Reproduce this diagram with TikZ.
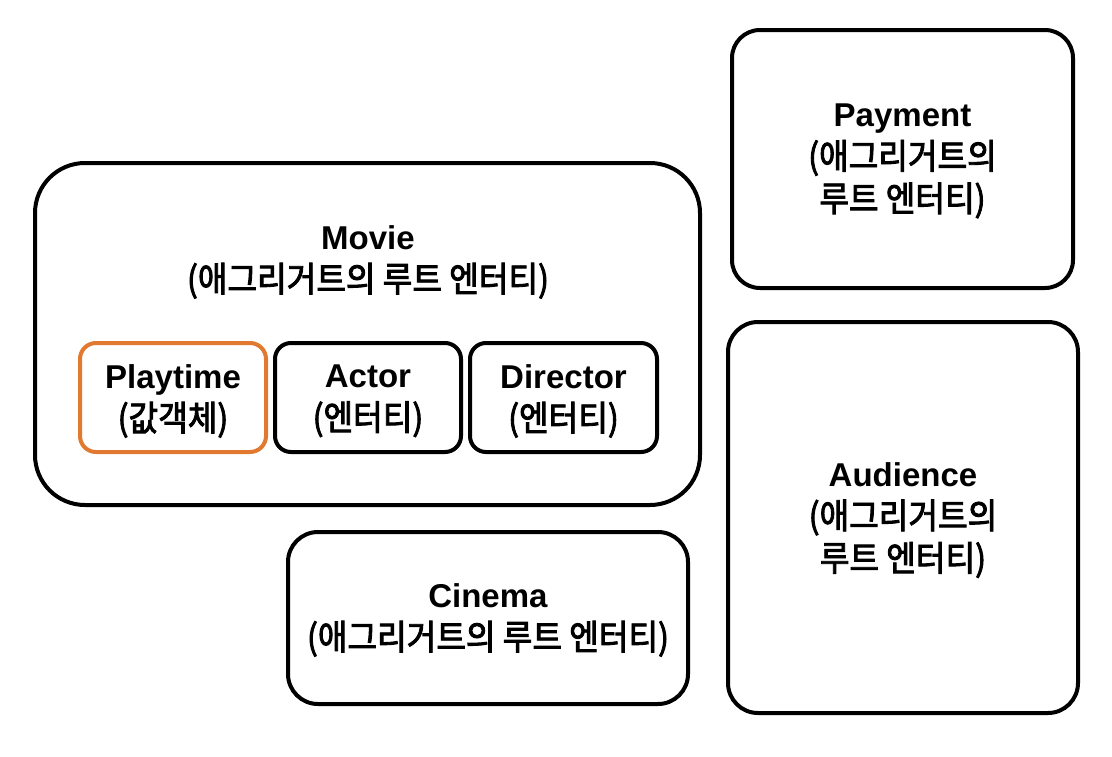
\documentclass[tikz,border=0pt]{standalone}
\usepackage{fontspec}
\setmainfont{Liberation Sans}
\newfontfamily\kr{Noto Sans CJK KR}[FakeStretch=0.92, FakeBold=2.5]
\newcommand\krt[1]{{\kr\fontsize{35}{42.5}\selectfont #1}}
\definecolor{vorange}{RGB}{225,122,48}
\tikzset{
  box/.style={draw=black, line width=4pt, rounded corners=#1, inner sep=0pt, rectangle},
  lbl/.style={align=center, inner sep=0pt, font=\fontsize{33}{42.5}\selectfont},
}
\begin{document}
\begin{tikzpicture}[x=1pt, y=-1pt]
\useasboundingbox (0,0) rectangle (1112,756);
% boxes
\node[box=50, minimum width=665pt, minimum height=342pt] (movie) at (367.5,334) {};
\node[box=16, draw=vorange, minimum width=186pt, minimum height=109pt] (playtime) at (173,397.5) {};
\node[box=16, minimum width=186pt, minimum height=109pt] (actor) at (368,397.5) {};
\node[box=16, minimum width=187pt, minimum height=109pt] (director) at (563.5,397.5) {};
\node[box=30, minimum width=400pt, minimum height=172pt] (cinema) at (488,618) {};
\node[box=28, minimum width=341pt, minimum height=258pt] (payment) at (902.5,159) {};
\node[box=30, minimum width=350pt, minimum height=391pt] (audience) at (903,517.5) {};
% labels
\node[lbl] (movietext) at (368,262) {\textbf{Movie}\\\krt{(애그리거트의 루트 엔터티)}};
\node[lbl] (playtimetext) at (173,401) {\textbf{Playtime}\\\krt{(값객체)}};
\node[lbl] (actortext) at (368,401) {\textbf{Actor}\\\krt{(엔터티)}};
\node[lbl] (directortext) at (563.5,401) {\textbf{Director}\\\krt{(엔터티)}};
\node[lbl] (cinematext) at (488,620) {\textbf{Cinema}\\\krt{(애그리거트의 루트 엔터티)}};
\node[lbl] (paymenttext) at (902.5,161) {\textbf{Payment}\\\krt{(애그리거트의}\\\krt{루트 엔터티)}};
\node[lbl] (audiencetext) at (903,520) {\textbf{Audience}\\\krt{(애그리거트의}\\\krt{루트 엔터티)}};
\end{tikzpicture}
\end{document}
